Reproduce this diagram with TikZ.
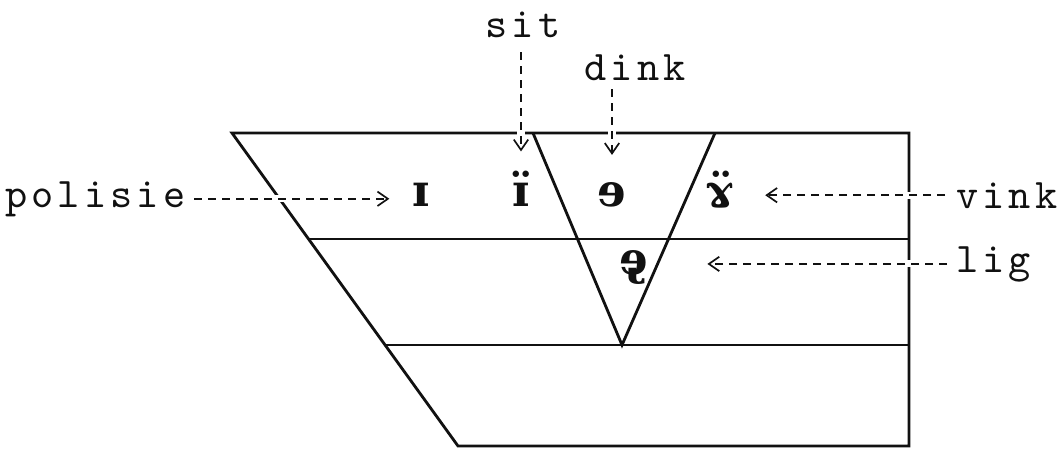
\documentclass[tikz,border=0pt]{standalone}
\usepackage{fontspec}
\usepackage{tikz}
\usetikzlibrary{arrows.meta,positioning}
\newfontfamily\ipafont{DejaVu Serif}
\newfontfamily\typer{lmmono10-regular.otf}[LetterSpace=10]
\definecolor{cink}{HTML}{111111}

\begin{document}
\begin{tikzpicture}[x=0.25mm, y=-0.25mm,
    >={Straight Barb[length=2.6mm, width=3.6mm]},
    edge/.style={line width=2pt, draw=cink},
    ptr/.style={->, line width=1.2pt, draw=cink, dash pattern=on 2mm off 1.5mm,
                preaction={draw=white, line width=5pt, solid, arrows=-}},
    word/.style={font=\fontsize{30}{32}\selectfont\typer, text=cink, inner sep=2pt},
    vow/.style={font=\fontsize{32}{34}\selectfont\ipafont\bfseries, text=cink, inner sep=2pt},
  ]
  \useasboundingbox (0,0) rectangle (1061,451);

  % chart outline
  \coordinate (tl) at (232,133);
  \coordinate (tr) at (909,133);
  \coordinate (br) at (909,446);
  \coordinate (bl) at (458,446);
  \coordinate (ml) at (308,239);
  \coordinate (mr) at (909,239);
  \coordinate (ll) at (385,345);
  \coordinate (lr) at (909,345);
  \draw[edge] (tl) -- (tr) -- (br) -- (bl) -- cycle;
  \draw[edge] (ml) -- (mr);
  \draw[edge] (ll) -- (lr);

  % central wedge
  \coordinate (wa) at (533,133);
  \coordinate (wb) at (715,133);
  \coordinate (wc) at (622,345);
  \draw[edge] (wa) -- (wc) -- (wb);

  % vowels
  \node[vow, anchor=base] (ih) at (421,206) {ɪ};
  \node[vow, anchor=base] (ihuml) at (521,206) {ɪ̈};
  \node[vow, anchor=base] (schwa) at (612,206) {ɘ};
  \node[vow, anchor=base] (ramsh) at (720,206) {ɤ̈};
  \node[vow, anchor=base] (schwah) at (634,274) {ɘ̢};

  % key words
  \node[word, anchor=base] (sit) at (523,37) {sit};
  \node[word, anchor=base] (dink) at (635,80) {dink};
  \node[word, anchor=base west] (polisie) at (2,207) {polisie};
  \node[word, anchor=base west] (vink) at (953,208) {vink};
  \node[word, anchor=base west] (lig) at (953,272) {lig};

  \draw[ptr, shorten <=3mm, shorten >=4mm] (ihuml.north |- sit.south) -- (ihuml.north);
  \draw[ptr, shorten <=1.5mm, shorten >=6mm] (schwa.north |- dink.south) -- (schwa.north);
  \draw[ptr, shorten <=1.5mm, shorten >=5mm] (polisie.east) -- (polisie.east -| ih.west);
  \draw[ptr, shorten <=2mm, shorten >=7mm] (vink.west) -- (vink.west -| ramsh.east);
  \draw[ptr, shorten <=1.5mm, shorten >=14mm] (lig.west) -- (lig.west -| schwah.east);
\end{tikzpicture}
\end{document}
